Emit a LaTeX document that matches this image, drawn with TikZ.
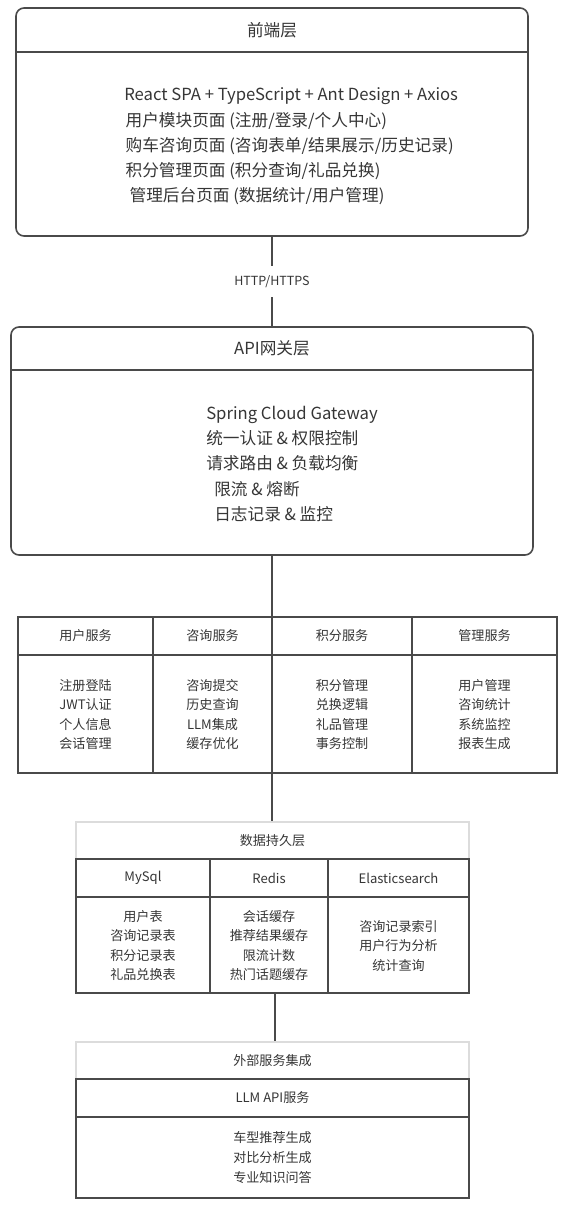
\documentclass[tikz,border=0pt]{standalone}
\usepackage{fontspec}
\setmainfont{Noto Sans CJK SC}
\definecolor{ln}{HTML}{4A4A4A}
\definecolor{lt}{HTML}{DCDCDC}
\definecolor{tx}{HTML}{363636}
\tikzset{
  layer/.style={draw=ln, line width=1.2pt, rounded corners=6pt, inner sep=0pt},
  tbl/.style={draw=ln, line width=0.9pt, inner sep=0pt},
  tline/.style={draw=ln, line width=0.9pt},
  hline/.style={draw=ln, line width=1.2pt},
  ltbox/.style={draw=lt, line width=0.9pt, inner sep=0pt},
  conn/.style={draw=ln, line width=1.2pt},
  big/.style={text=tx, font=\fontsize{12.5pt}{18.9pt}\selectfont, inner sep=0pt},
  small/.style={text=tx, font=\fontsize{9.8pt}{14.7pt}\selectfont, inner sep=0pt, align=center},
  lab/.style={text=tx, font=\fontsize{9.4pt}{11pt}\selectfont, fill=white, inner xsep=2pt, inner ysep=7pt},
}
\begin{document}
\begin{tikzpicture}[x=0.75pt,y=-0.75pt]
\useasboundingbox[fill=white] (0,0) rectangle (569,1215);

% ---------- front-end layer ----------
\node[layer, minimum width=384pt, minimum height=171pt] (fe) at (272,122) {};
\draw[hline] (fe.west |- 0,52) -- (fe.east |- 0,52);
\node[big] (fet) at (272,30) {前端层};
\node[big, align=left, anchor=west] (feb) at (124,146.5) {React SPA + TypeScript + Ant Design + Axios\\
\hspace{1pt}用户模块页面 (注册/登录/个人中心)\\
\hspace{1pt}购车咨询页面 (咨询表单/结果展示/历史记录)\\
\hspace{1pt}积分管理页面 (积分查询/礼品兑换)\\
\hspace{4pt}管理后台页面 (数据统计/用户管理)};

% ---------- API gateway ----------
\node[layer, minimum width=391.5pt, minimum height=171pt] (api) at (272,441) {};
\draw[hline] (api.west |- 0,370) -- (api.east |- 0,370);
\node[big] (apit) at (272,348) {API网关层};
\node[big, align=left, anchor=west] (apib) at (206,464) {Spring Cloud Gateway\\
统一认证 \& 权限控制\\
请求路由 \& 负载均衡\\
\hspace{6pt}限流 \& 熔断\\
\hspace{6pt}日志记录 \& 监控};

\draw[conn] (fe) -- node[lab] (http) {HTTP/HTTPS} (api);

% ---------- services ----------
\node[tbl, minimum width=404.25pt, minimum height=117pt] (svc) at (287.5,695) {};
\draw[tline] (svc.west |- 0,655) -- (svc.east |- 0,655);
\draw[tline] (svc.north -| 153,0) -- (svc.south -| 153,0);
\draw[tline] (svc.north -| 272,0) -- (svc.south -| 272,0);
\draw[tline] (svc.north -| 412,0) -- (svc.south -| 412,0);
\node[small] (s1h) at (85.5,636) {用户服务};
\node[small] (s2h) at (212.5,636) {咨询服务};
\node[small] (s3h) at (342,636) {积分服务};
\node[small] (s4h) at (484.5,636) {管理服务};
\node[small] (s1b) at (85.5,714.5) {注册登陆\\JWT认证\\个人信息\\会话管理};
\node[small] (s2b) at (212.5,714.5) {咨询提交\\历史查询\\LLM集成\\缓存优化};
\node[small] (s3b) at (342,714.5) {积分管理\\兑换逻辑\\礼品管理\\事务控制};
\node[small] (s4b) at (484.5,714.5) {用户管理\\咨询统计\\系统监控\\报表生成};

\draw[conn] (api) -- (api |- svc.north);

% ---------- data persistence ----------
\node[ltbox, minimum width=294.75pt, minimum height=128.25pt] (dlo) at (272.5,907.5) {};
\node[tbl, minimum width=294.75pt, minimum height=100.5pt] (dl) at (272.5,926) {};
\draw[tline] (dl.west |- 0,897) -- (dl.east |- 0,897);
\draw[tline] (dl.north -| 210,0) -- (dl.south -| 210,0);
\draw[tline] (dl.north -| 328,0) -- (dl.south -| 328,0);
\node[small] (dlt) at (272.5,841) {数据持久层};
\node[small] (d1h) at (143,878) {MySql};
\node[small] (d2h) at (269,878) {Redis};
\node[small] (d3h) at (398.5,878) {Elasticsearch};
\node[small] (d1b) at (143,945.5) {用户表\\咨询记录表\\积分记录表\\礼品兑换表};
\node[small] (d2b) at (269,945.5) {会话缓存\\推荐结果缓存\\限流计数\\热门话题缓存};
\node[small] (d3b) at (398.5,946) {咨询记录索引\\用户行为分析\\统计查询};

\draw[conn] (api |- svc.south) -- (api |- dlo.north);

% ---------- external services ----------
\node[ltbox, minimum width=294.75pt, minimum height=117pt] (exo) at (272.5,1120) {};
\node[tbl, minimum width=294.75pt, minimum height=89.25pt] (ex) at (272.5,1138.5) {};
\draw[tline] (ex.west |- 0,1117) -- (ex.east |- 0,1117);
\node[small] (ext) at (272.5,1061) {外部服务集成};
\node[small] (exh) at (272.5,1098) {LLM API服务};
\node[small] (exb) at (272.5,1157.5) {车型推荐生成\\对比分析生成\\专业知识问答};

\draw[conn] ([xshift=1.9pt]dl.south) -- ([xshift=1.9pt]exo.north);
\end{tikzpicture}
\end{document}
